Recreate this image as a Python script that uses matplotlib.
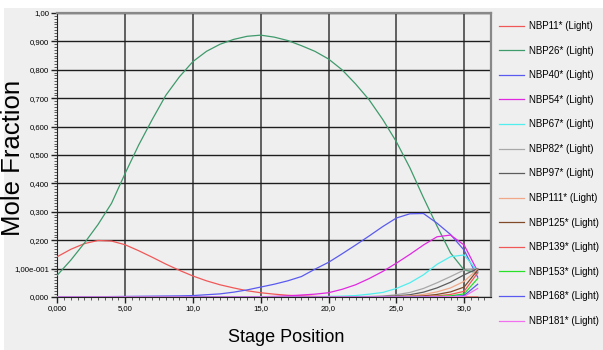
import matplotlib
matplotlib.use('Agg')
import matplotlib.pyplot as plt
from matplotlib.patches import Rectangle
from matplotlib.ticker import MultipleLocator

# stage positions along the column
stages = list(range(32))

nbp11 = [0.142, 0.168, 0.188, 0.199, 0.197, 0.184, 0.163, 0.140, 0.116, 0.094,
         0.074, 0.057, 0.043, 0.032, 0.022, 0.015, 0.010, 0.006, 0.004, 0.002,
         0.001, 0.0005, 0.0003, 0.0002, 0.0001, 0, 0, 0, 0, 0, 0, 0]
nbp26 = [0.077, 0.130, 0.190, 0.255, 0.330, 0.435, 0.535, 0.625, 0.710, 0.775,
         0.829, 0.865, 0.890, 0.907, 0.918, 0.922, 0.915, 0.903, 0.885, 0.865,
         0.838, 0.800, 0.750, 0.694, 0.625, 0.547, 0.455, 0.350, 0.250, 0.155,
         0.095, 0.085]
nbp40 = [0, 0.0002, 0.0005, 0.001, 0.0015, 0.002, 0.0025, 0.003, 0.0035, 0.004,
         0.005, 0.008, 0.011, 0.017, 0.025, 0.035, 0.045, 0.057, 0.072, 0.098,
         0.122, 0.152, 0.183, 0.215, 0.248, 0.278, 0.293, 0.294, 0.260, 0.220,
         0.165, 0.070]
nbp54 = [0, 0, 0, 0, 0, 0, 0, 0, 0, 0,
         0, 0, 0, 0.0005, 0.001, 0.001, 0.002, 0.004, 0.007, 0.010,
         0.015, 0.027, 0.043, 0.065, 0.090, 0.119, 0.150, 0.183, 0.212, 0.218,
         0.183, 0.090]
nbp67 = [0, 0, 0, 0, 0, 0, 0, 0, 0, 0,
         0, 0, 0, 0, 0, 0, 0, 0, 0.0005, 0.001,
         0.002, 0.003, 0.005, 0.010, 0.016, 0.030, 0.050, 0.078, 0.115, 0.142,
         0.148, 0.090]
nbp82 = [0] * 22 + [0.001, 0.002, 0.003, 0.008, 0.016, 0.030, 0.050, 0.072, 0.095, 0.100]
nbp97 = [0] * 23 + [0.001, 0.002, 0.004, 0.008, 0.017, 0.032, 0.052, 0.078, 0.100]
nbp111 = [0] * 24 + [0.001, 0.002, 0.004, 0.009, 0.018, 0.032, 0.055, 0.098]
nbp125 = [0] * 25 + [0.001, 0.002, 0.004, 0.009, 0.018, 0.035, 0.095]
nbp139 = [0] * 26 + [0.001, 0.002, 0.004, 0.009, 0.020, 0.085]
nbp153 = [0] * 26 + [0.0005, 0.001, 0.002, 0.004, 0.011, 0.065]
nbp168 = [0] * 27 + [0.0005, 0.001, 0.001, 0.005, 0.045]
nbp181 = [0] * 28 + [0.0005, 0.001, 0.002, 0.030]

series = [nbp11, nbp26, nbp40, nbp54, nbp67, nbp82, nbp97,
          nbp111, nbp125, nbp139, nbp153, nbp168, nbp181]
names = ['NBP11* (Light)', 'NBP26* (Light)', 'NBP40* (Light)', 'NBP54* (Light)',
         'NBP67* (Light)', 'NBP82* (Light)', 'NBP97* (Light)', 'NBP111* (Light)',
         'NBP125* (Light)', 'NBP139* (Light)', 'NBP153* (Light)', 'NBP168* (Light)',
         'NBP181* (Light)']
colors = ['#f05858', '#3f9a6c', '#5a5af0', '#e028e0', '#50eeee', '#a8a8a8', '#5c5c5c',
          '#f0a888', '#804a28', '#f05858', '#28e028', '#5a5af0', '#f070f0']

xtick_vals = [0, 5, 10, 15, 20, 25, 30]
xtick_labels = ['0,000', '5,00', '10,0', '15,0', '20,0', '25,0', '30,0']
ytick_vals = [0, 0.1, 0.2, 0.3, 0.4, 0.5, 0.6, 0.7, 0.8, 0.9, 1.0]
ytick_labels = ['0,000', '1,00e-001', '0,200', '0,300', '0,400', '0,500',
                '0,600', '0,700', '0,800', '0,900', '1,00']

sans = ['Liberation Sans', 'DejaVu Sans']
bg = '#efefef'

fig = plt.figure(figsize=(6.03, 3.5), dpi=100, facecolor='white')
fig.patches.append(Rectangle((4 / 603, 0), 1, 342 / 350, transform=fig.transFigure,
                             facecolor=bg, edgecolor='none', zorder=-10))
ax = fig.add_axes([57.3 / 603, 53 / 350, 433.4 / 603, 284 / 350])
ax.set_facecolor(bg)

for vals, name, c in zip(series, names, colors):
    ax.plot(stages, vals, color=c, lw=0.9, label=name, zorder=3)

ax.set_xlim(0, 31.96)
ax.set_ylim(0, 1.0)

ax.set_xticks(xtick_vals)
ax.set_xticklabels(xtick_labels, family=sans, fontsize=5.6)
ax.set_yticks(ytick_vals)
ax.set_yticklabels(ytick_labels, family=sans, fontsize=5.6)
ax.xaxis.set_minor_locator(MultipleLocator(0.5))
ax.yaxis.set_minor_locator(MultipleLocator(0.01))
ax.tick_params(which='major', length=4, width=1, color='#222222', pad=2)
ax.tick_params(which='minor', length=2.5, width=0.6, color='#444444')

ax.xaxis.grid(True, color='#555555', lw=1.3)
ax.yaxis.grid(True, color='#1e1e1e', lw=1.0)
ax.set_axisbelow(True)

for side in ['top', 'right']:
    ax.spines[side].set_color('#888888')
    ax.spines[side].set_linewidth(1.6)
ax.spines['left'].set_color('#222222')
ax.spines['bottom'].set_color('#222222')

fig.text(13 / 603, 1 - 158 / 350, 'Mole Fraction', rotation=90, fontsize=18.5,
         family=sans, ha='center', va='center')
fig.text(286 / 603, 1 - 338 / 350, 'Stage Position', fontsize=13,
         family=sans, ha='center', va='center')

fig.legend(loc='upper left', bbox_to_anchor=(499 / 603, 1 - 21 / 350),
           frameon=False, prop={'family': sans, 'size': 7.0},
           handlelength=2.55, handletextpad=0.5, labelspacing=1.5,
           borderaxespad=0, borderpad=0)

fig.savefig('out.png', dpi=100, facecolor=fig.get_facecolor())
